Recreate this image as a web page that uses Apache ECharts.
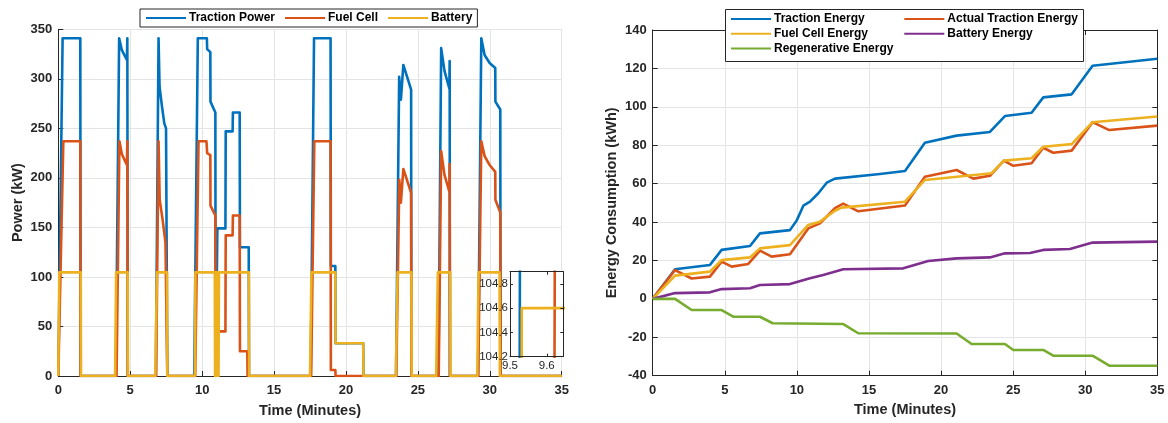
<!DOCTYPE html>
<html>
<head>
<meta charset="utf-8">
<script src="https://cdn.jsdelivr.net/npm/echarts@6/dist/echarts.min.js"></script>
<style>
html,body{margin:0;padding:0;background:#fff;}
#chart{width:1168px;height:423px;}
</style>
</head>
<body>
<div id="chart"></div>
<script>
// ---------- DATA (time in minutes) ----------
const powerNames = ['Traction Power', 'Fuel Cell', 'Battery'];
const energyNames = ['Traction Energy', 'Actual Traction Energy', 'Fuel Cell Energy', 'Battery Energy', 'Regenerative Energy'];

// Left chart: power (kW)
const tractionPower = [
  [0,0],[0.30,341],[1.53,341],[1.55,0],
  [4.00,0],[4.23,341],[4.42,329],[4.77,319],[4.80,341],[4.83,0],
  [6.78,0],[6.97,341],[7.04,292],[7.21,272],[7.37,255],[7.49,250],[7.56,250],[7.58,0],
  [9.45,0],[9.70,341],[10.33,341],[10.35,330],[10.57,327],[10.58,277],[10.92,266],[10.94,0],[11.02,0],[11.06,149],[11.62,149],[11.64,247],[12.12,247],[12.14,266],[12.61,266],[12.63,130],[13.24,130],[13.26,0],
  [17.55,0],[17.78,341],[18.93,341],[18.95,111],[19.26,111],[19.28,33],[21.20,33],[21.22,0],
  [23.48,0],[23.70,302],[23.80,303],[23.82,279],[23.90,279],[23.99,314],[24.53,289],[24.55,0],
  [26.43,0],[26.62,331],[26.85,308],[27.19,290],[27.21,318],[27.23,0],
  [29.18,0],[29.41,341],[29.64,324],[29.99,316],[30.38,311],[30.39,277],[30.73,269],[30.75,0],
  [35,0]
];
const fuelCellPower = [
  [0,0],[0.05,0],[0.35,237],[1.53,237],[1.55,0],
  [4.05,0],[4.25,237],[4.42,224],[4.77,213],[4.80,237],[4.83,0],
  [6.80,0],[6.97,237],[7.05,178],[7.25,158],[7.45,135],[7.53,133],[7.58,0],
  [9.52,0],[9.75,237],[10.30,237],[10.35,225],[10.57,223],[10.58,172],[10.92,162],[10.94,0],[11.03,0],[11.07,45],[11.62,45],[11.64,142],[12.12,142],[12.14,162],[12.61,162],[12.63,25],[13.14,25],[13.16,0],
  [17.58,0],[17.80,237],[18.93,237],[18.95,6],[19.26,6],[19.28,0],
  [23.50,0],[23.71,198],[23.80,199],[23.82,175],[23.90,175],[23.99,209],[24.53,185],[24.55,0],
  [26.45,0],[26.62,227],[26.85,203],[27.19,186],[27.21,214],[27.23,0],
  [29.20,0],[29.41,237],[29.64,222],[29.99,213],[30.38,206],[30.39,178],[30.73,165],[30.75,0],
  [35,0]
];
const batteryPower = [
  [0,0],[0.07,104.6],[1.56,104.6],[1.58,0],
  [3.95,0],[4.02,104.6],[4.82,104.6],[4.84,0],
  [6.74,0],[6.86,104.6],[7.56,104.6],[7.58,0],
  [9.50,0],[9.532,104.6],[10.88,104.6],[10.90,0],[10.93,104.6],[10.96,0],[10.99,104.6],[11.02,0],[11.05,104.6],[11.08,0],[11.11,104.6],[11.14,0],[11.17,104.6],
  [13.25,104.6],[13.27,0],
  [17.50,0],[17.60,104.6],[19.26,104.6],[19.28,33],[21.20,33],[21.22,0],
  [23.47,0],[23.59,104.6],[24.55,104.6],[24.57,0],
  [26.27,0],[26.39,104.6],[27.25,104.6],[27.27,0],
  [29.13,0],[29.22,104.6],[30.68,104.6],[30.70,0],
  [35,0]
];

// Right chart: energy (kWh)
const tractionEnergy = [
  [0,0],[1.55,15.4],[3.97,17.6],[4.78,25.5],[6.75,27.5],[7.44,34.1],[9.52,35.8],[10.0,41],[10.45,48.5],[10.91,50.6],
  [11.49,55],[12.07,60.5],[12.64,62.6],[15.76,65],[17.5,66.6],[18.88,81.3],[21.08,85],[23.39,86.9],[24.43,95.2],
  [26.28,96.9],[27.09,104.9],[29.06,106.5],[30.51,121.4],[35,125]
];
const actualTractionEnergy = [
  [0,0],[1.55,15],[2.7,10.6],[3.97,11.6],[4.78,19.4],[5.48,16.8],[6.63,18.2],[7.44,25.1],[8.25,22],[9.52,23.2],
  [10.79,36.7],[11.6,39.3],[12.64,47.2],[13.22,49.6],[14.26,45.6],[17.5,48.6],[18.88,63.6],[21.08,67.1],[22.24,62.6],
  [23.39,64.1],[24.36,72],[25.01,69.3],[26.28,70.6],[27.09,78.7],[27.78,76.1],[29.06,77.2],[30.51,92],[31.67,87.9],[35,90.2]
];
const fuelCellEnergy = [
  [0,0],[1.55,12.1],[3.97,14.2],[4.78,20.2],[6.75,21.6],[7.44,26.3],[9.52,28],[10.79,38.5],[11.6,40.2],[12.64,45.9],
  [13.1,47.5],[17.5,50.6],[18.88,61.9],[23.5,65.4],[24.36,72],[26.28,73.2],[27.09,79.2],[29.06,80.6],[30.51,92],[35,95]
];
const batteryEnergy = [
  [0,0],[1.55,3],[3.97,3.4],[4.78,5.1],[6.75,5.5],[7.44,7.2],[9.52,7.7],[10.91,10.7],[11.83,12.4],[13.22,15.4],
  [17.38,15.9],[19.11,19.7],[21.08,21.1],[23.39,21.6],[24.43,23.7],[26.17,23.9],[27.09,25.5],[28.94,26],[30.51,29.3],[35,29.8]
];
const regenerativeEnergy = [
  [0,0],[1.55,0],[2.7,-5.8],[4.78,-5.8],[5.59,-9.3],[7.44,-9.3],[8.32,-12.7],[13.22,-13.1],[14.26,-17.9],[21.08,-18],
  [22.12,-23.5],[24.43,-23.5],[25.01,-26.6],[27.09,-26.6],[27.78,-29.6],[30.51,-29.6],[31.67,-34.8],[35,-34.8]
];

// ---------- STYLE ----------
const FONT = '"Liberation Sans", Arial, sans-serif';
const AX = '#262626';
const GRIDC = '#e4e4e4';
const COL = {blue:'#0072BD', orange:'#D95319', yellow:'#EDB120', purple:'#7E2F8E', green:'#77AC30'};
const LW = 2.6;

function lineSeries(name, data, color, xi, yi, extra) {
  return Object.assign({
    name: name, type: 'line', data: data, xAxisIndex: xi, yAxisIndex: yi,
    symbol: 'none', showSymbol: false, clip: true, animation: false,
    lineStyle: {color: color, width: LW, join: 'round'}, itemStyle: {color: color}
  }, extra || {});
}

const tickLabel = {fontFamily: FONT, fontWeight: 'bold', fontSize: 13, color: AX};
const nameStyle = {fontFamily: FONT, fontWeight: 'bold', fontSize: 14.5, color: AX};
const axLine = {show: true, onZero: false, lineStyle: {color: AX, width: 1}};
const axTick = {show: true, inside: true, length: 5, lineStyle: {color: AX, width: 1}};
const split = {show: true, lineStyle: {color: GRIDC, width: 1}};
const inLabel = {fontFamily: FONT, fontWeight: 'normal', fontSize: 11.5, color: AX};
const legText = {fontFamily: FONT, fontWeight: 'bold', fontSize: 12, color: '#000', padding: [0,0,0,-2]};
const legItem = {opacity: 0};

const option = {
  backgroundColor: '#fff',
  animation: false,
  grid: [
    {left: 58.3, right: 1168 - 561.7, top: 29.3, bottom: 423 - 376.7, containLabel: false},
    {left: 652.7, right: 1168 - 1157.3, top: 30, bottom: 423 - 375.7, containLabel: false},
    {left: 510, top: 271.7, width: 53.3, height: 85, show: true, backgroundColor: '#fff', borderWidth: 0, z: 5}
  ],
  legend: [
    {
      data: powerNames, left: 140, top: 9, orient: 'horizontal',
      padding: [3, 5, 3, 5], itemGap: 9, itemWidth: 40, itemHeight: 14, itemStyle: legItem,
      backgroundColor: '#fff', borderColor: AX, borderWidth: 1, borderRadius: 0,
      textStyle: legText, z: 20
    },
    {
      data: [energyNames[0], energyNames[2], energyNames[4]], left: 725, top: 9, orient: 'vertical',
      padding: [4, 5, 4, 5], itemGap: 2.7, itemWidth: 40, itemHeight: 14, itemStyle: legItem,
      textStyle: legText, z: 21
    },
    {
      data: [energyNames[1], energyNames[3]], left: 898.3, top: 9, orient: 'vertical',
      padding: [4, 5, 4, 5], itemGap: 2.7, itemWidth: 40, itemHeight: 14, itemStyle: legItem,
      textStyle: legText, z: 21
    }
  ],
  graphic: [
    {type: 'rect', shape: {x: 725.5, y: 9.5, width: 358, height: 52}, style: {fill: '#fff', stroke: AX, lineWidth: 1}, z: 19}
  ],
  xAxis: [
    {type: 'value', gridIndex: 0, min: 0, max: 35, interval: 5,
      axisLine: axLine, axisTick: axTick, splitLine: split,
      axisLabel: Object.assign({margin: 8}, tickLabel),
      name: 'Time (Minutes)', nameLocation: 'middle', nameGap: 27, nameTextStyle: nameStyle},
    {type: 'value', gridIndex: 1, min: 0, max: 35, interval: 5,
      axisLine: axLine, axisTick: axTick, splitLine: split,
      axisLabel: Object.assign({margin: 8}, tickLabel),
      name: 'Time (Minutes)', nameLocation: 'middle', nameGap: 27, nameTextStyle: nameStyle},
    {type: 'value', gridIndex: 1, position: 'top', min: 0, max: 35, interval: 5,
      axisLine: axLine, axisTick: axTick, splitLine: {show: false}, axisLabel: {show: false}},
    {type: 'value', gridIndex: 2, min: 9.5, max: 9.645, interval: 0.1, z: 8,
      axisLine: axLine, axisTick: {show: true, inside: true, length: 3, lineStyle: {color: AX}}, splitLine: {show: false},
      axisLabel: Object.assign({margin: 3, showMaxLabel: false, formatter: v => v.toFixed(1)}, inLabel)},
    {type: 'value', gridIndex: 2, position: 'top', min: 9.5, max: 9.645, interval: 0.1, z: 8,
      axisLine: axLine, axisTick: {show: true, inside: true, length: 3, lineStyle: {color: AX}}, splitLine: {show: false}, axisLabel: {show: false}}
  ],
  yAxis: [
    {type: 'value', gridIndex: 0, min: 0, max: 350, interval: 50,
      axisLine: axLine, axisTick: axTick, splitLine: split,
      axisLabel: Object.assign({margin: 6}, tickLabel),
      name: 'Power (kW)', nameLocation: 'middle', nameGap: 33, nameRotate: 90, nameTextStyle: nameStyle},
    {type: 'value', gridIndex: 1, min: -40, max: 140, interval: 20,
      axisLine: axLine, axisTick: axTick, splitLine: split,
      axisLabel: Object.assign({margin: 6}, tickLabel),
      name: 'Energy Consumption (kWh)', nameLocation: 'middle', nameGap: 33, nameRotate: 90, nameTextStyle: nameStyle},
    {type: 'value', gridIndex: 1, position: 'right', min: -40, max: 140, interval: 20,
      axisLine: axLine, axisTick: axTick, splitLine: {show: false}, axisLabel: {show: false}},
    {type: 'value', gridIndex: 2, min: 104.2, max: 104.9, interval: 0.2, z: 8,
      axisLine: axLine, axisTick: {show: true, inside: true, length: 3, lineStyle: {color: AX}}, splitLine: {show: false},
      axisLabel: Object.assign({margin: 2, showMaxLabel: false, formatter: v => v.toFixed(1)}, inLabel)},
    {type: 'value', gridIndex: 2, position: 'right', min: 104.2, max: 104.9, interval: 0.2, z: 8,
      axisLine: axLine, axisTick: {show: true, inside: true, length: 3, lineStyle: {color: AX}}, splitLine: {show: false}, axisLabel: {show: false}}
  ],
  series: [
    lineSeries(powerNames[0], tractionPower, COL.blue, 0, 0),
    lineSeries(powerNames[1], fuelCellPower, COL.orange, 0, 0),
    lineSeries(powerNames[2], batteryPower, COL.yellow, 0, 0),
    lineSeries(energyNames[0], tractionEnergy, COL.blue, 1, 1),
    lineSeries(energyNames[1], actualTractionEnergy, COL.orange, 1, 1),
    lineSeries(energyNames[2], fuelCellEnergy, COL.yellow, 1, 1),
    lineSeries(energyNames[3], batteryEnergy, COL.purple, 1, 1),
    lineSeries(energyNames[4], regenerativeEnergy, COL.green, 1, 1),
    // inset: zoom on the same power series
    lineSeries(powerNames[0], tractionPower, COL.blue, 3, 3, {z: 6}),
    lineSeries(powerNames[1], fuelCellPower, COL.orange, 3, 3, {z: 6}),
    lineSeries(powerNames[2], batteryPower, COL.yellow, 3, 3, {z: 6})
  ]
};

const chart = echarts.init(document.getElementById('chart'), null, {renderer: 'canvas'});
chart.setOption(option);
</script>
</body>
</html>
